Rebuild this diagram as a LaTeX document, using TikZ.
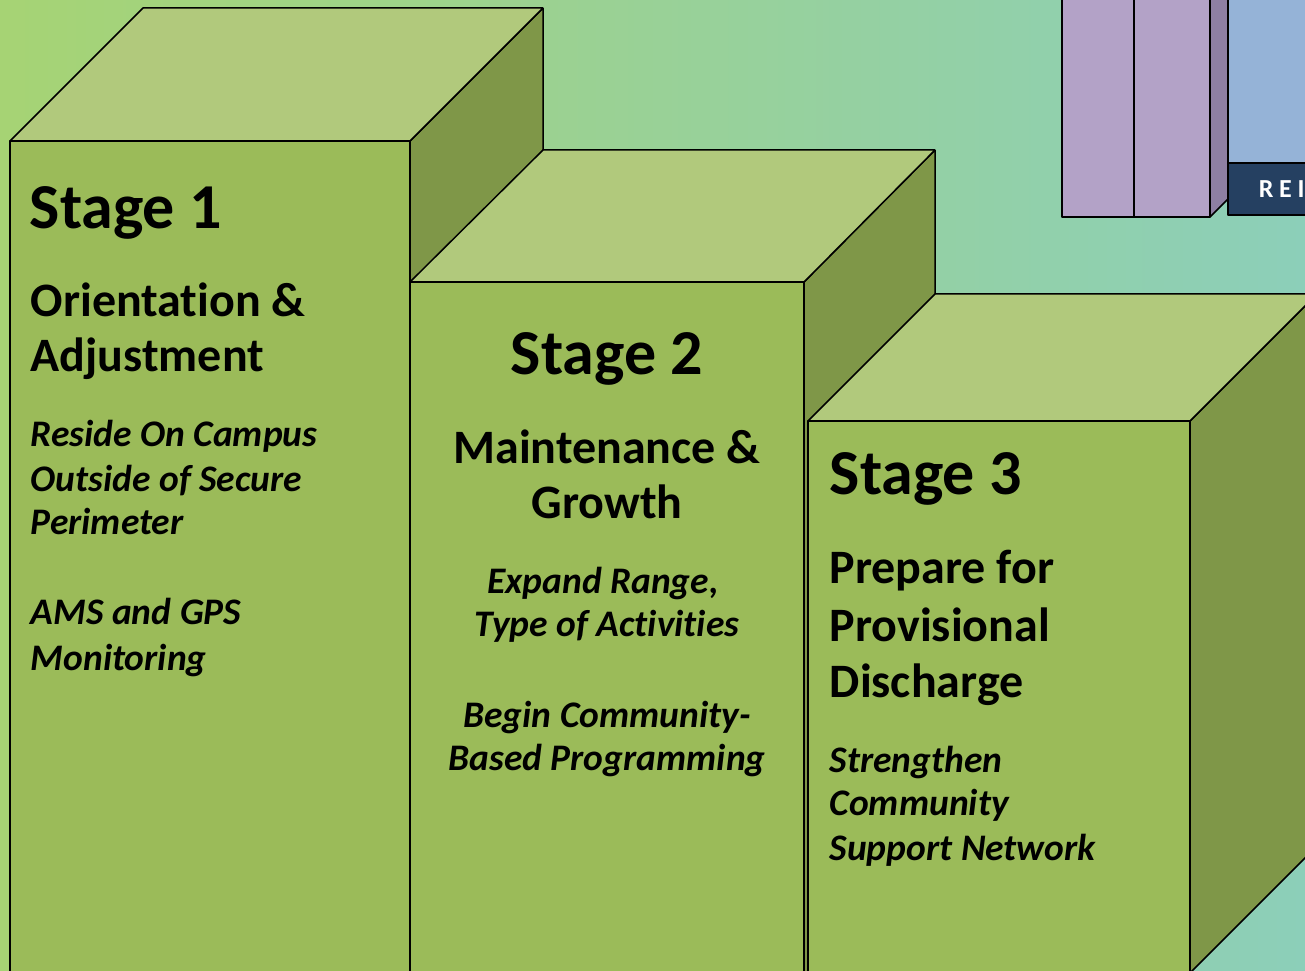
\documentclass[tikz,border=0pt]{standalone}
\usepackage{fontspec}
\setmainfont{Carlito}[Ligatures=NoCommon]
\usetikzlibrary{shapes}

\begin{document}
\begin{tikzpicture}[x=1bp,y=1bp,line join=bevel,
  front/.style={fill=frontcol,draw=black},
  topface/.style={fill=topcol,draw=black},
  sideface/.style={fill=sidecol,draw=black},
  head/.style={inner sep=0pt,font=\fontsize{64bp}{76bp}\selectfont\bfseries},
  title/.style={inner sep=0pt,font=\fontsize{48bp}{56bp}\selectfont\bfseries},
  detail/.style={inner sep=0pt,font=\fontsize{37.5bp}{44bp}\selectfont\bfseries\itshape}]
\pgfsetlinewidth{1.5bp}
\definecolor{bgleft}{HTML}{A6D374}
\definecolor{bgmid}{HTML}{A6D69C}
\definecolor{bgright}{HTML}{8CCFB9}
\definecolor{frontcol}{HTML}{9BBB59}
\definecolor{topcol}{HTML}{B1C97C}
\definecolor{sidecol}{HTML}{7F9748}
\definecolor{lilac}{HTML}{B3A2C7}
\definecolor{lilacside}{HTML}{8E7FA3}
\definecolor{skyblue}{HTML}{95B3D7}
\definecolor{navy}{HTML}{254061}

\useasboundingbox (0,0) rectangle (1305,970);
\clip (0,0) rectangle (1305,970);
\shade[left color=bgleft,middle color=bgmid,right color=bgright] (0,0) rectangle (1305,970);

% Backdrop: columns top right
\begin{scope}
  \draw[fill=lilac] (1062,753) rectangle (1134,980);
  \draw[fill=lilac] (1134,753) rectangle (1210,980);
  \draw[fill=lilacside] (1210,753) -- (1228,771) -- (1228,980) -- (1210,980) -- cycle;
  \draw[fill=skyblue] (1228,807) rectangle (1315,980);
  \draw[fill=navy] (1228,755) rectangle (1315,807);
  \node[anchor=base west,inner sep=0pt,text=white,
    font=\fontsize{26bp}{26bp}\selectfont\bfseries\addfontfeature{LetterSpace=22}] (banner) at (1258,772) {REI};
\end{scope}

% Block: Stage1
\begin{scope}
  \draw[sideface] (410,829) -- (543,962) -- (543,128) -- (410,-5) -- cycle;
  \draw[topface] (10,829) -- (410,829) -- (543,962) -- (143,962) -- cycle;
  \draw[front] (10,-5) rectangle (410,829);
  \node[head,anchor=base west] (s1head) at (29,741) {Stage 1};
  \node[title,anchor=base west] (s1titlea) at (30,653) {Orientation \&};
  \node[title,anchor=base west] (s1titleb) at (30,598) {Adjustment};
  \node[detail,anchor=base west] (s1texta) at (30,523) {Reside On Campus};
  \node[detail,anchor=base west] (s1textb) at (30,478) {Outside of Secure};
  \node[detail,anchor=base west] (s1textc) at (30,435) {Perimeter};
  \node[detail,anchor=base west] (s1textd) at (30,345) {AMS and GPS};
  \node[detail,anchor=base west] (s1texte) at (30,300) {Monitoring};
\end{scope}

% Block: Stage2
\begin{scope}
  \draw[sideface] (804,688) -- (935,820) -- (935,127) -- (804,-5) -- cycle;
  \draw[topface] (410,688) -- (804,688) -- (935,820) -- (543,820) -- cycle;
  \draw[front] (410,-5) rectangle (804,688);
  \node[head,anchor=base] (s2head) at (607,595) {Stage 2};
  \node[title,anchor=base] (s2titlea) at (607,506) {Maintenance \&};
  \node[title,anchor=base] (s2titleb) at (607,451) {Growth};
  \node[detail,anchor=base] (s2texta) at (603,376) {Expand Range,};
  \node[detail,anchor=base] (s2textb) at (607,333) {Type of Activities};
  \node[detail,anchor=base] (s2textc) at (607,243) {Begin Community-};
  \node[detail,anchor=base] (s2textd) at (607,200) {Based Programming};
\end{scope}

% Block: Stage3
\begin{scope}
  \draw[sideface] (1190,549) -- (1317,676) -- (1317,124) -- (1190,-3) -- cycle;
  \draw[topface] (808,549) -- (1190,549) -- (1317,676) -- (935,676) -- cycle;
  \draw[front] (808,-3) rectangle (1190,549);
  \node[head,anchor=base west] (s3head) at (829,475) {Stage 3};
  \node[title,anchor=base west] (s3titlea) at (829,386) {Prepare for};
  \node[title,anchor=base west] (s3titleb) at (829,328) {Provisional};
  \node[title,anchor=base west] (s3titlec) at (829,273) {Discharge};
  \node[detail,anchor=base west] (s3texta) at (829,198) {Strengthen};
  \node[detail,anchor=base west] (s3textb) at (829,155) {Community};
  \node[detail,anchor=base west] (s3textc) at (829,110) {Support Network};
\end{scope}
%
\end{tikzpicture}
\end{document}
